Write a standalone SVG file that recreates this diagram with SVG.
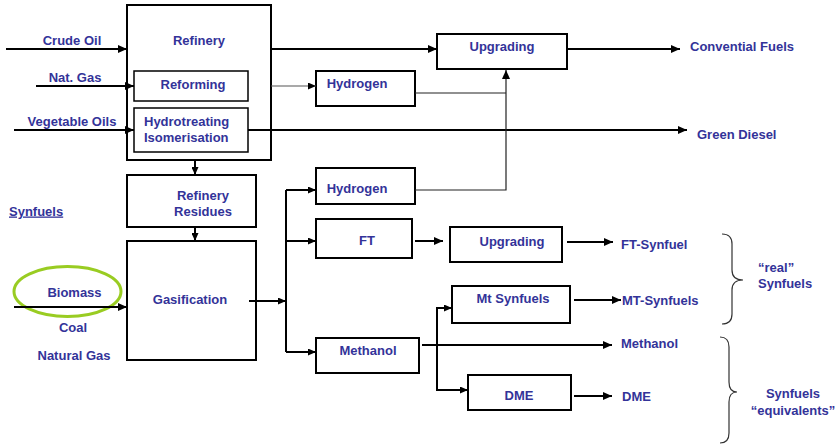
<svg xmlns="http://www.w3.org/2000/svg" width="838" height="446" viewBox="0 0 838 446">
  <style>
    text { font-family: "Liberation Sans", Arial, sans-serif; font-weight: bold; font-size: 13px; fill: #333399; }
    .c { text-anchor: middle; }
    .box { fill: #ffffff; stroke: #000000; stroke-width: 2; }
    .inner { fill: #ffffff; stroke: #000000; stroke-width: 1.5; }
    .ln { fill: none; stroke: #000000; stroke-width: 2; }
    .thin { fill: none; stroke: #222222; stroke-width: 1.2; }
    .grey { fill: none; stroke: #555555; stroke-width: 1.2; }
    .brace { fill: none; stroke: #333333; stroke-width: 1.2; }
  </style>
  <defs>
    <marker id="arr" markerUnits="userSpaceOnUse" viewBox="0 0 9 8" refX="9" refY="4" markerWidth="9" markerHeight="8" orient="auto">
      <path d="M0,0 L9,4 L0,8 z" fill="#000000"/>
    </marker>
    <marker id="arrs" markerUnits="userSpaceOnUse" viewBox="0 0 8 7" refX="8" refY="3.5" markerWidth="8" markerHeight="7" orient="auto">
      <path d="M0,0 L8,3.5 L0,7 z" fill="#000000"/>
    </marker>
  </defs>
  <rect width="838" height="446" fill="#ffffff"/>

  <!-- process boxes -->
  <g id="refinery">
    <rect class="box" x="127" y="5" width="144" height="155"/>
    <text class="c" x="199" y="45">Refinery</text>
  </g>
  <g id="reforming">
    <rect class="inner" x="134" y="71" width="114" height="30"/>
    <text class="c" x="193" y="89">Reforming</text>
  </g>
  <g id="hydrotreating">
    <rect class="inner" x="134" y="108" width="114" height="44"/>
    <text x="144" y="126">Hydrotreating</text>
    <text x="144" y="142">Isomerisation</text>
  </g>
  <g id="upgrading-top">
    <rect class="box" x="437" y="34" width="130" height="35"/>
    <text class="c" x="502" y="51">Upgrading</text>
  </g>
  <g id="hydrogen-top">
    <rect class="box" x="316" y="71" width="99" height="35"/>
    <text class="c" x="357" y="88">Hydrogen</text>
  </g>
  <g id="refinery-residues">
    <rect class="box" x="127" y="175" width="129" height="52"/>
    <text class="c" x="203" y="200">Refinery</text>
    <text class="c" x="203" y="216">Residues</text>
  </g>
  <g id="gasification">
    <rect class="box" x="127" y="241" width="129" height="119"/>
    <text class="c" x="190" y="303.5">Gasification</text>
  </g>
  <g id="hydrogen-syn">
    <rect class="box" x="316" y="168" width="99" height="36"/>
    <text class="c" x="357" y="192.5">Hydrogen</text>
  </g>
  <g id="ft">
    <rect class="box" x="316" y="219" width="96" height="39"/>
    <text class="c" x="367" y="244.5">FT</text>
  </g>
  <g id="upgrading-ft">
    <rect class="box" x="450" y="227" width="112" height="35"/>
    <text class="c" x="512" y="245.5">Upgrading</text>
  </g>
  <g id="mt-synfuels">
    <rect class="box" x="452" y="286" width="118" height="37"/>
    <text class="c" x="513" y="303">Mt Synfuels</text>
  </g>
  <g id="methanol">
    <rect class="box" x="316" y="338" width="103" height="35"/>
    <text class="c" x="368" y="355">Methanol</text>
  </g>
  <g id="dme">
    <rect class="box" x="468" y="375" width="103" height="35"/>
    <text class="c" x="519" y="399.5">DME</text>
  </g>

  <!-- feedstock highlight -->
  <g id="biomass-highlight">
    <ellipse cx="67.5" cy="291.5" rx="53.5" ry="25" fill="none" stroke="#99cc22" stroke-width="3"/>
  </g>

  <!-- connectors -->
  <g id="connectors">
    <line class="ln" x1="6" y1="49" x2="127" y2="49" marker-end="url(#arr)"/>
    <line class="ln" x1="36" y1="86" x2="134" y2="86" marker-end="url(#arr)"/>
    <line class="ln" x1="14" y1="130" x2="134" y2="130" marker-end="url(#arr)"/>
    <line class="ln" x1="271" y1="49" x2="437" y2="49" marker-end="url(#arr)"/>
    <line class="grey" x1="271" y1="86" x2="316" y2="86" marker-end="url(#arrs)"/>
    <line class="ln" x1="248" y1="130" x2="687" y2="130" marker-end="url(#arr)"/>
    <line class="ln" x1="567" y1="49" x2="680" y2="49" marker-end="url(#arr)"/>
    <polyline class="thin" points="415,93 506,93"/>
    <polyline class="thin" points="415,190 506,190 506,70" marker-end="url(#arr)"/>
    <line class="ln" x1="195" y1="160" x2="195" y2="175" marker-end="url(#arrs)"/>
    <line class="ln" x1="195" y1="227" x2="195" y2="241" marker-end="url(#arrs)"/>
    <line class="ln" x1="14" y1="307" x2="127" y2="307" marker-end="url(#arr)"/>
    <line class="ln" x1="249" y1="301" x2="286" y2="301" marker-end="url(#arrs)"/>
    <polyline class="ln" points="286,190 286,352"/>
    <line class="ln" x1="286" y1="190" x2="316" y2="190" marker-end="url(#arrs)"/>
    <line class="ln" x1="286" y1="241" x2="316" y2="241" marker-end="url(#arrs)"/>
    <line class="ln" x1="286" y1="352" x2="316" y2="352" marker-end="url(#arrs)"/>
    <line class="ln" x1="415" y1="241" x2="443" y2="241" marker-end="url(#arr)"/>
    <line class="ln" x1="567" y1="242" x2="613" y2="242" marker-end="url(#arr)"/>
    <line class="ln" x1="574" y1="300" x2="621" y2="300" marker-end="url(#arr)"/>
    <line class="ln" x1="422" y1="345" x2="612" y2="345" marker-end="url(#arr)"/>
    <polyline class="ln" points="452,308 437,308 437,390 468,390"/>
    <line class="ln" x1="437" y1="308" x2="452" y2="308" marker-end="url(#arrs)"/>
    <line class="ln" x1="437" y1="390" x2="468" y2="390" marker-end="url(#arrs)"/>
    <line class="ln" x1="574" y1="396" x2="612" y2="396" marker-end="url(#arr)"/>
  </g>

  <!-- input and output labels -->
  <g id="labels">
    <text class="c" x="72" y="45">Crude Oil</text>
    <text class="c" x="75" y="82">Nat. Gas</text>
    <text class="c" x="72" y="126">Vegetable Oils</text>
    <text x="690" y="51">Convential Fuels</text>
    <text x="697" y="138.5">Green Diesel</text>
    <text x="9" y="215.5" text-decoration="underline">Synfuels</text>
    <text class="c" x="74.5" y="296.5">Biomass</text>
    <text class="c" x="73" y="331.5">Coal</text>
    <text class="c" x="74" y="359.5">Natural Gas</text>
    <text x="621" y="248.5">FT-Synfuel</text>
    <text x="622" y="304.5">MT-Synfuels</text>
    <text x="621" y="347.5">Methanol</text>
    <text x="622" y="400.5">DME</text>
    <text x="758" y="272">“real”</text>
    <text x="758" y="287.5">Synfuels</text>
    <text class="c" x="793" y="397.5">Synfuels</text>
    <text class="c" x="793" y="414.5">“equivalents”</text>
  </g>

  <!-- grouping braces -->
  <g id="braces">
    <path class="brace" d="M722,234 Q732,234 732,244 L732,270 Q732,280 743,280 Q732,280 732,290 L732,314 Q732,324 722,324"/>
    <path class="brace" d="M720,337 Q729,337 729,347 L729,382 Q729,392 737,392 Q729,392 729,402 L729,433 Q729,443 720,443"/>
  </g>
</svg>
